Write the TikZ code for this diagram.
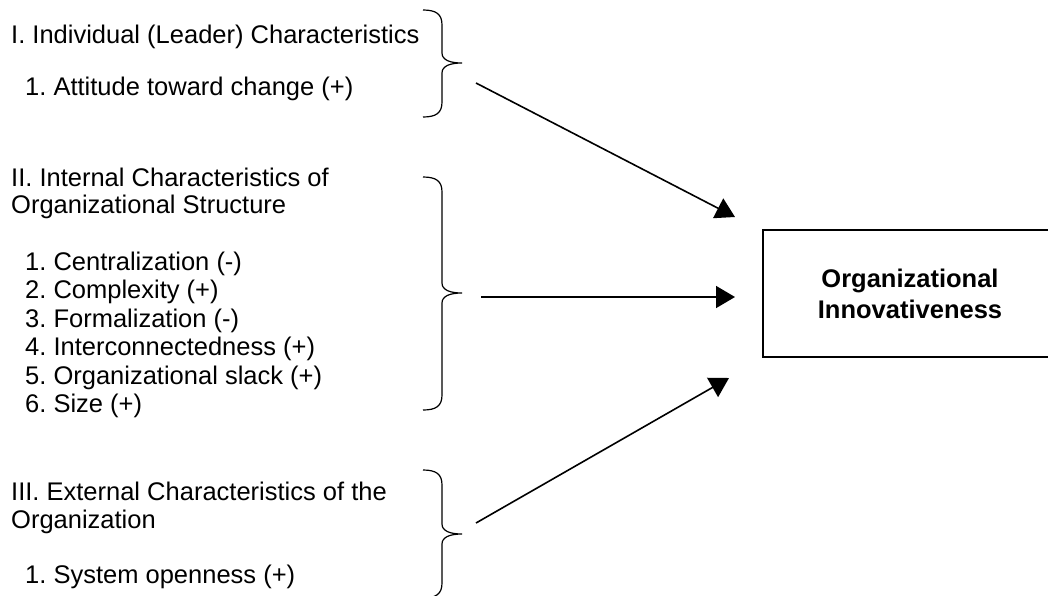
\documentclass[tikz,border=0pt]{standalone}
\usepackage{fontspec}
\setmainfont{Liberation Sans}
\frenchspacing
\usetikzlibrary{arrows.meta}

% curly bracket, y of top end, tip and bottom end
\newcommand{\drawbrace}[3]{%
  \draw[brc] (423,#1) .. controls (436,#1) and (442,#1+4) .. (442,#1+15)
    -- (442,#2-10) .. controls (442,#2-3) and (450,#2) .. (462,#2)
    .. controls (450,#2) and (442,#2+3) .. (442,#2+10)
    -- (442,#3-15) .. controls (442,#3-4) and (436,#3) .. (423,#3);}

\begin{document}
\begin{tikzpicture}[x=1pt,y=-1pt,
  labelsty/.style={anchor=base west,inner sep=0pt,font=\fontsize{25.5}{28}\selectfont},
  brc/.style={line width=1.2pt},
  arr/.style={line width=1.6pt,-{Triangle[length=19pt,width=22pt]}},
  outbox/.style={draw,line width=1.4pt,minimum width=294pt,minimum height=127pt,
    align=center,font=\fontsize{25.5}{31}\selectfont\bfseries}]

  \useasboundingbox (0,0) rectangle (1048,595);

  \node[labelsty] (ind) at (11,43) {I. Individual (Leader) Characteristics};
  \node[labelsty] (ind1) at (25,95) {1. Attitude toward change (+)};
  \drawbrace{10}{63}{117}

  \node[labelsty] (int) at (11,186) {II. Internal Characteristics of};
  \node[labelsty] (intb) at (11,213) {Organizational Structure};
  \foreach \txt [count=\i] in {Centralization (-),Complexity (+),Formalization (-),
      Interconnectedness (+),Organizational slack (+),Size (+)}
    \node[labelsty] (int\i) at (25,{270+28.5*(\i-1)}) {\i. \txt};
  \drawbrace{177}{293}{410}

  \node[labelsty] (ext) at (11,500) {III. External Characteristics of the};
  \node[labelsty] (extb) at (11,528) {Organization};
  \node[labelsty] (ext1) at (25,583) {1. System openness (+)};
  \drawbrace{470}{534}{598}

  \node[outbox] (innov) at (910,293.5) {Organizational\\Innovativeness};

  \coordinate (s1) at (476,83);  \coordinate (e1) at (735,217);
  \coordinate (s2) at (481,297); \coordinate (e2) at (735,297);
  \coordinate (s3) at (476,523); \coordinate (e3) at (729,378);
  \draw[arr] (s1) -- (e1);
  \draw[arr] (s2) -- (e2);
  \draw[arr] (s3) -- (e3);

\end{tikzpicture}
\end{document}
